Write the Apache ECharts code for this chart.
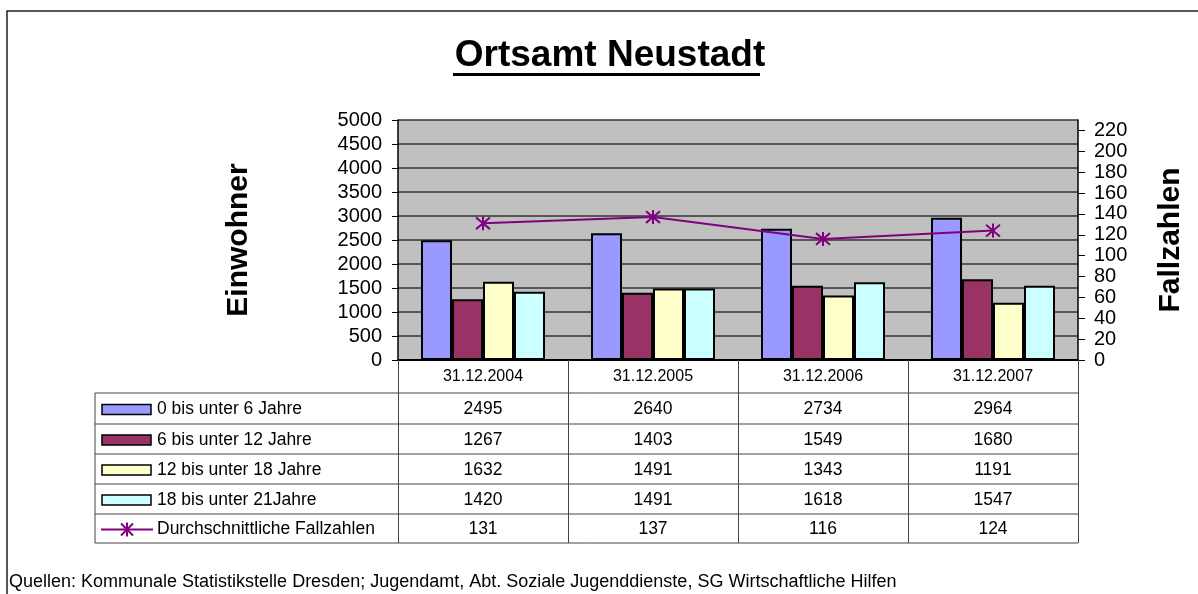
<!DOCTYPE html>
<html>
<head>
<meta charset="utf-8">
<script src="https://cdn.jsdelivr.net/npm/echarts@6/dist/echarts.min.js"></script>
<style>
html, body { margin: 0; padding: 0; background: #fff; }
#chart { width: 1198px; height: 594px; }
</style>
</head>
<body>
<div id="chart"></div>
<script>
var categories = ["31.12.2004", "31.12.2005", "31.12.2006", "31.12.2007"];
var seriesNames = ["0 bis unter 6 Jahre", "6 bis unter 12 Jahre", "12 bis unter 18 Jahre", "18 bis unter 21Jahre"];
var age0to6 = [2495, 2640, 2734, 2964];
var age6to12 = [1267, 1403, 1549, 1680];
var age12to18 = [1632, 1491, 1343, 1191];
var age18to21 = [1420, 1491, 1618, 1547];
var lineName = "Durchschnittliche Fallzahlen";
var fallzahlen = [131, 137, 116, 124];
var rightTicks = [0, 20, 40, 60, 80, 100, 120, 140, 160, 180, 200, 220];

var barData = [age0to6, age6to12, age12to18, age18to21];
var barColors = ["#9999FF", "#993366", "#FFFFCC", "#CCFFFF"];
var lineColor = "#800080";
var font = "'Liberation Sans', Arial, sans-serif";
var starPath = "path://M-1,-1L1,1M-1,1L1,-1M0,-1.2L0,1.2";

var rowLines = [393, 424, 454, 484, 514, 543];   // table row borders (px)
var tableLeft = 95, plotLeft = 398, plotRight = 1078;

var chart = echarts.init(document.getElementById("chart"));

var series = barData.map(function (d, i) {
    return {
        name: seriesNames[i], type: "bar", data: d, barWidth: 31, barGap: "0%",
        itemStyle: {color: barColors[i], borderColor: "#000", borderWidth: 2},
        silent: true
    };
});
series.push({
    name: lineName, type: "line", yAxisIndex: 1, data: fallzahlen,
    symbol: starPath, symbolSize: 14, showAllSymbol: true,
    lineStyle: {color: lineColor, width: 2},
    itemStyle: {color: lineColor, borderColor: lineColor, borderWidth: 2},
    silent: true
});

chart.setOption({
    animation: false,
    grid: {left: plotLeft, right: 1198 - plotRight, top: 120, bottom: 594 - 360,
        show: true, backgroundColor: "#C0C0C0", borderWidth: 0},
    xAxis: {
        type: "category", data: categories, boundaryGap: true,
        axisLine: {lineStyle: {color: "#000", width: 2}},
        axisTick: {show: true, alignWithLabel: false, interval: 0, length: 543 - 360,
            lineStyle: {color: "#444", width: 1}},
        axisLabel: {color: "#000", fontFamily: font, fontSize: 16, margin: 9}
    },
    yAxis: [{
        type: "value", min: 0, max: 5000, interval: 500,
        axisLine: {show: true, lineStyle: {color: "#000", width: 1.5}},
        axisTick: {show: true, length: 6, lineStyle: {color: "#000"}},
        axisLabel: {color: "#000", fontFamily: font, fontSize: 20, margin: 16,
            formatter: function (v) { return String(v); }},
        splitLine: {lineStyle: {color: "#333", width: 1.5}}
    }, {
        type: "value", min: 0, max: 230, position: "right",
        axisLine: {show: true, lineStyle: {color: "#000", width: 1.5}},
        axisTick: {show: true, length: 7, customValues: rightTicks, lineStyle: {color: "#000"}},
        axisLabel: {color: "#000", fontFamily: font, fontSize: 20, margin: 16, customValues: rightTicks,
            formatter: function (v) { return String(v); }},
        splitLine: {show: false}
    }],
    series: series
});

// data table, title and texts
var g = [];
g.push({type: "rect", shape: {x: 7, y: 11, width: 1210, height: 620},
    style: {fill: "none", stroke: "#222", lineWidth: 1.5}, silent: true});
g.push({type: "text", x: 610, y: 56, style: {text: "Ortsamt Neustadt", font: "bold 37px " + font,
    fill: "#000", align: "center", verticalAlign: "middle"}});
g.push({type: "rect", shape: {x: 453, y: 73, width: 307, height: 3}, style: {fill: "#000"}});
g.push({type: "text", x: 239, y: 240, rotation: Math.PI / 2, style: {text: "Einwohner",
    font: "bold 30px " + font, fill: "#000", align: "center", verticalAlign: "middle"}});
g.push({type: "text", x: 1171, y: 240, rotation: Math.PI / 2, style: {text: "Fallzahlen",
    font: "bold 30px " + font, fill: "#000", align: "center", verticalAlign: "middle"}});

rowLines.forEach(function (y) {
    g.push({type: "line", shape: {x1: tableLeft, y1: y, x2: plotRight, y2: y},
        style: {stroke: "#444", lineWidth: 1}});
});
g.push({type: "line", shape: {x1: tableLeft, y1: rowLines[0], x2: tableLeft, y2: rowLines[5]},
    style: {stroke: "#444", lineWidth: 1}});

var rowValues = barData.concat([fallzahlen]);
var rowLabels = seriesNames.concat([lineName]);
rowValues.forEach(function (vals, r) {
    var yc = (rowLines[r] + rowLines[r + 1]) / 2 + 1;
    if (r < 4) {
        g.push({type: "rect", shape: {x: 102, y: yc - 5, width: 49, height: 10},
            style: {fill: barColors[r], stroke: "#000", lineWidth: 1.5}});
    } else {
        var keyLines = [[101, 0, 153, 0], [121, -6, 133, 6], [121, 6, 133, -6], [127, -7, 127, 7]];
        keyLines.forEach(function (k) {
            g.push({type: "line", shape: {x1: k[0], y1: yc + k[1], x2: k[2], y2: yc + k[3]},
                style: {stroke: lineColor, lineWidth: 2}});
        });
    }
    g.push({type: "text", x: 157, y: yc, style: {text: rowLabels[r], font: "17.5px " + font,
        fill: "#000", align: "left", verticalAlign: "middle"}});
    vals.forEach(function (v, c) {
        var px = chart.convertToPixel({xAxisIndex: 0}, categories[c]);
        g.push({type: "text", x: px, y: yc, style: {text: String(v), font: "17.5px " + font,
            fill: "#000", align: "center", verticalAlign: "middle"}});
    });
});

g.push({type: "text", x: 9, y: 582, style: {
    text: "Quellen: Kommunale Statistikstelle Dresden; Jugendamt, Abt. Soziale Jugenddienste, SG Wirtschaftliche Hilfen",
    font: "18px " + font, fill: "#000", align: "left", verticalAlign: "middle"}});

chart.setOption({graphic: {elements: g}});
</script>
</body>
</html>
